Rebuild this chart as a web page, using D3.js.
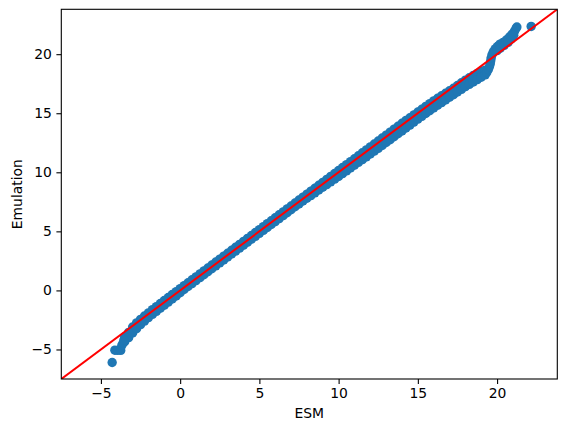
<!DOCTYPE html>
<html>
<head>
<meta charset="utf-8">
<script src="https://cdn.jsdelivr.net/npm/d3@7"></script>
<style>
  body { margin: 0; background: #fff; }
  svg { display: block; font-family: 'DejaVu Sans', sans-serif; }
</style>
</head>
<body>
<div id="chart"></div>
<script>
// quantile pairs (ESM on x, emulation on y)
const esmQ = [-3.5, -3.25, -3, -2.75, -2.5, -2.25, -2, -1.75, -1.5, -1.25, -1, -0.75, -0.5, -0.25,
  0, 0.25, 0.5, 0.75, 1, 1.25, 1.5, 1.75, 2, 2.25, 2.5, 2.75, 3, 3.25, 3.5, 3.75,
  4, 4.25, 4.5, 4.75, 5, 5.25, 5.5, 5.75, 6, 6.25, 6.5, 6.75, 7, 7.25, 7.5, 7.75,
  8, 8.25, 8.5, 8.75, 9, 9.25, 9.5, 9.75, 10, 10.25, 10.5, 10.75, 11, 11.25, 11.5, 11.75,
  12, 12.25, 12.5, 12.75, 13, 13.25, 13.5, 13.75, 14, 14.25, 14.5, 14.75, 15, 15.25, 15.5, 15.75,
  16, 16.25, 16.5, 16.75, 17, 17.25, 17.5, 17.75, 18, 18.25, 18.5, 18.75, 19, 19.25];
const emuHigh = [-3.95, -3.55, -3.1, -2.75, -2.45, -2.17, -1.9, -1.63, -1.37, -1.11, -0.85, -0.6, -0.35, -0.1,
  0.15, 0.4, 0.65, 0.9, 1.15, 1.4, 1.65, 1.9, 2.15, 2.4, 2.65, 2.9, 3.15, 3.4, 3.65, 3.9,
  4.15, 4.4, 4.65, 4.9, 5.15, 5.4, 5.65, 5.9, 6.15, 6.4, 6.65, 6.9, 7.15, 7.4, 7.65, 7.9,
  8.15, 8.4, 8.65, 8.9, 9.15, 9.4, 9.65, 9.9, 10.15, 10.4, 10.65, 10.9, 11.15, 11.4, 11.65, 11.9,
  12.15, 12.4, 12.65, 12.9, 13.15, 13.4, 13.65, 13.9, 14.15, 14.39, 14.62, 14.86, 15.1, 15.34, 15.58, 15.81,
  16.05, 16.27, 16.48, 16.69, 16.9, 17.12, 17.35, 17.58, 17.8, 18.0, 18.2, 18.37, 18.55, 18.65];
const emuLow = [-4.35, -4.0, -3.6, -3.25, -2.9, -2.6, -2.3, -2.03, -1.77, -1.51, -1.25, -0.99, -0.73, -0.47,
  -0.2, 0.08, 0.33, 0.58, 0.83, 1.08, 1.33, 1.58, 1.83, 2.08, 2.33, 2.58, 2.83, 3.08, 3.33, 3.58,
  3.83, 4.08, 4.33, 4.58, 4.83, 5.08, 5.33, 5.58, 5.83, 6.08, 6.33, 6.58, 6.83, 7.08, 7.32, 7.57,
  7.8, 8.03, 8.26, 8.5, 8.73, 8.96, 9.19, 9.42, 9.65, 9.89, 10.12, 10.36, 10.6, 10.84, 11.07, 11.31,
  11.55, 11.79, 12.03, 12.27, 12.52, 12.76, 13.01, 13.26, 13.5, 13.75, 14.0, 14.25, 14.5, 14.74, 14.98, 15.21,
  15.45, 15.68, 15.9, 16.12, 16.35, 16.57, 16.8, 17.02, 17.25, 17.45, 17.65, 17.85, 18.05, 18.25];

// extreme quantiles at both ends
const tailEsm = [-4.29, -4.12, -3.95, -3.75, -3.68, -3.6, -3.55,
  19.35, 19.45, 19.52, 19.57, 19.6, 19.63, 19.68, 19.76, 19.88, 20.02, 20.18, 20.38, 20.58, 20.78, 20.95, 21.1, 21.2, 21.25,
  20.0, 20.2, 20.45, 20.7, 20.9, 21.05, 22.15];
const tailEmu = [-6.1, -5.06, -5.08, -5.08, -4.65, -4.45, -4.2,
  18.45, 18.7, 18.95, 19.2, 19.45, 19.7, 19.95, 20.2, 20.45, 20.65, 20.85, 21.0, 21.2, 21.45, 21.7, 21.95, 22.2, 22.3,
  20.3, 20.5, 20.75, 21.0, 21.3, 21.6, 22.35];

const xDomain = [-7.5, 23.8];
const yDomain = [-7.5, 23.8];
const xTicks = [-5, 0, 5, 10, 15, 20];
const yTicks = [-5, 0, 5, 10, 15, 20];

const points = [];
esmQ.forEach((x, i) => {
  points.push({x: x, y: emuHigh[i]});
  points.push({x: x, y: emuLow[i]});
});
tailEsm.forEach((x, i) => points.push({x: x, y: tailEmu[i]}));

const W = 566, H = 432;
const margin = {top: 9.3, right: 8.7, bottom: 53, left: 61.3};
const width = W - margin.left - margin.right;
const height = H - margin.top - margin.bottom;

const svg = d3.select('#chart')
  .append('svg')
  .attr('width', W)
  .attr('height', H);

const g = svg.append('g')
  .attr('transform', 'translate(' + margin.left + ',' + margin.top + ')');

g.append('clipPath')
  .attr('id', 'plotclip')
  .append('rect')
  .attr('width', width)
  .attr('height', height);

const x = d3.scaleLinear().domain(xDomain).range([0, width]);
const y = d3.scaleLinear().domain(yDomain).range([height, 0]);

const plot = g.append('g').attr('clip-path', 'url(#plotclip)');

plot.selectAll('circle')
  .data(points)
  .enter()
  .append('circle')
  .attr('cx', d => x(d.x))
  .attr('cy', d => y(d.y))
  .attr('r', 4.7)
  .attr('fill', '#1f77b4');

// 1:1 reference line
const lo = Math.min(xDomain[0], yDomain[0]);
const hi = Math.max(xDomain[1], yDomain[1]);
plot.append('line')
  .attr('x1', x(lo))
  .attr('y1', y(lo))
  .attr('x2', x(hi))
  .attr('y2', y(hi))
  .attr('stroke', '#ff0000')
  .attr('stroke-width', 2);

const xAxis = g.append('g')
  .attr('transform', 'translate(0,' + height + ')')
  .call(d3.axisBottom(x).tickValues(xTicks).tickSize(4.9).tickPadding(4.5).tickSizeOuter(0));

const yAxis = g.append('g')
  .call(d3.axisLeft(y).tickValues(yTicks).tickSize(4.9).tickPadding(4.5).tickSizeOuter(0));

[xAxis, yAxis].forEach(a => {
  a.select('.domain').remove();
  a.selectAll('line').attr('stroke', '#000').attr('stroke-width', 1.1);
  a.selectAll('text')
    .attr('fill', '#000')
    .style('font-family', "'DejaVu Sans', sans-serif")
    .style('font-size', '13.9px');
});

// frame
g.append('rect')
  .attr('width', width)
  .attr('height', height)
  .attr('fill', 'none')
  .attr('stroke', '#000')
  .attr('stroke-width', 1.1);

g.append('text')
  .attr('x', width / 2)
  .attr('y', height + 39)
  .attr('text-anchor', 'middle')
  .style('font-size', '13.9px')
  .text('ESM');

g.append('text')
  .attr('transform', 'translate(' + (21.5 - margin.left) + ',' + (height / 2) + ') rotate(-90)')
  .attr('text-anchor', 'middle')
  .style('font-size', '13.9px')
  .text('Emulation');
</script>
</body>
</html>
